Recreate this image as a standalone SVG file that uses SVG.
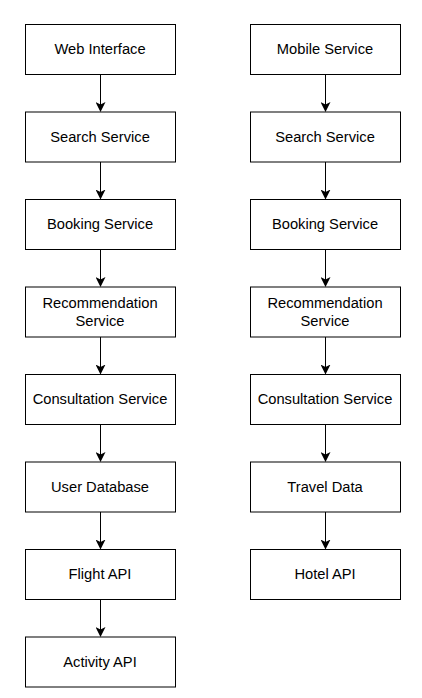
<svg xmlns="http://www.w3.org/2000/svg" width="422" height="698" viewBox="0 0 422 698">
<style>
.b{fill:#fff;stroke:#000;stroke-width:1}
.t{font-family:"Liberation Sans",Arial,sans-serif;font-size:14.7px;fill:#000;text-anchor:middle}
.e{stroke:#000;stroke-width:1;fill:none;marker-end:url(#a)}
</style>
<defs>
<marker id="a" viewBox="0 0 10 10" refX="9" refY="5" markerWidth="10" markerHeight="10" markerUnits="userSpaceOnUse" orient="auto">
<path d="M0,0 L10,5 L0,10 L2.5,5 Z" fill="#000"/>
</marker>
</defs>
<rect width="422" height="698" fill="#fff"/>
<g id="connectors">
<path class="e" d="M100.5,74.5 V111"/>
<path class="e" d="M100.5,162 V198.5"/>
<path class="e" d="M100.5,249.5 V286"/>
<path class="e" d="M100.5,337 V373.5"/>
<path class="e" d="M100.5,424.5 V461"/>
<path class="e" d="M100.5,512 V548.5"/>
<path class="e" d="M100.5,599.5 V636"/>
<path class="e" d="M325.5,74.5 V111"/>
<path class="e" d="M325.5,162 V198.5"/>
<path class="e" d="M325.5,249.5 V286"/>
<path class="e" d="M325.5,337 V373.5"/>
<path class="e" d="M325.5,424.5 V461"/>
<path class="e" d="M325.5,512 V548.5"/>
</g>
<g id="web"><rect class="b" x="25.5" y="24.5" width="150" height="50"/><text class="t" x="100" y="54">Web Interface</text></g>
<g id="search1"><rect class="b" x="25.5" y="112" width="150" height="50"/><text class="t" x="100" y="141.5">Search Service</text></g>
<g id="booking1"><rect class="b" x="25.5" y="199.5" width="150" height="50"/><text class="t" x="100" y="229">Booking Service</text></g>
<g id="rec1"><rect class="b" x="25.5" y="287" width="150" height="50"/><text class="t" x="100" y="307.5">Recommendation</text><text class="t" x="100" y="325.5">Service</text></g>
<g id="cons1"><rect class="b" x="25.5" y="374.5" width="150" height="50"/><text class="t" x="100" y="404">Consultation Service</text></g>
<g id="userdb"><rect class="b" x="25.5" y="462" width="150" height="50"/><text class="t" x="100" y="491.5">User Database</text></g>
<g id="flight"><rect class="b" x="25.5" y="549.5" width="150" height="50"/><text class="t" x="100" y="579">Flight API</text></g>
<g id="activity"><rect class="b" x="25.5" y="637" width="150" height="50"/><text class="t" x="100" y="666.5">Activity API</text></g>
<g id="mobile"><rect class="b" x="250.5" y="24.5" width="150" height="50"/><text class="t" x="325" y="54">Mobile Service</text></g>
<g id="search2"><rect class="b" x="250.5" y="112" width="150" height="50"/><text class="t" x="325" y="141.5">Search Service</text></g>
<g id="booking2"><rect class="b" x="250.5" y="199.5" width="150" height="50"/><text class="t" x="325" y="229">Booking Service</text></g>
<g id="rec2"><rect class="b" x="250.5" y="287" width="150" height="50"/><text class="t" x="325" y="307.5">Recommendation</text><text class="t" x="325" y="325.5">Service</text></g>
<g id="cons2"><rect class="b" x="250.5" y="374.5" width="150" height="50"/><text class="t" x="325" y="404">Consultation Service</text></g>
<g id="travel"><rect class="b" x="250.5" y="462" width="150" height="50"/><text class="t" x="325" y="491.5">Travel Data</text></g>
<g id="hotel"><rect class="b" x="250.5" y="549.5" width="150" height="50"/><text class="t" x="325" y="579">Hotel API</text></g>
</svg>
